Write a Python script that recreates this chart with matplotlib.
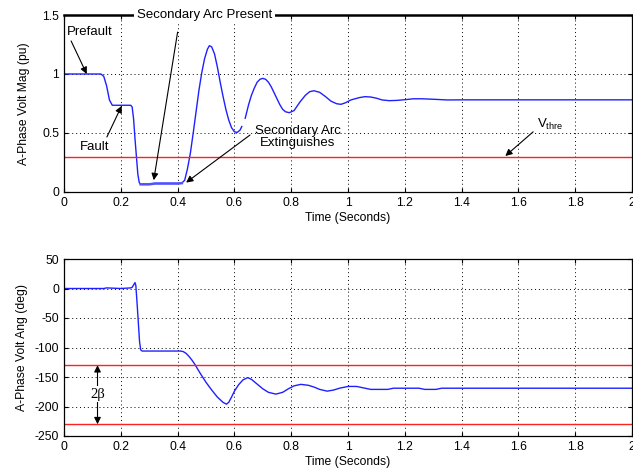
import numpy as np
import matplotlib
matplotlib.use("Agg")
import matplotlib.pyplot as plt

# ── data ────────────────────────────────────────────────────────
# A-phase voltage magnitude (pu); NaN marks the short break in the trace
mag_t = [0.00, 0.13, 0.14, 0.15, 0.16, 0.17, 0.235, 0.24, 0.245, 0.25, 0.255,
         0.26, 0.265, 0.27, 0.30, 0.32, 0.40, 0.415, 0.425, 0.435, 0.445,
         0.455, 0.465, 0.475, 0.485, 0.495, 0.505, 0.512, 0.52, 0.53, 0.54,
         0.55, 0.56, 0.57, 0.58, 0.59, 0.60, 0.61, 0.62, 0.626, 0.631, 0.638,
         0.65, 0.66, 0.67, 0.68, 0.69, 0.70, 0.71, 0.72, 0.73, 0.74, 0.75,
         0.76, 0.77, 0.78, 0.793, 0.81, 0.83, 0.85, 0.865, 0.88, 0.90, 0.92,
         0.94, 0.96, 0.975, 0.99, 1.01, 1.04, 1.06, 1.08, 1.10, 1.12, 1.145,
         1.17, 1.20, 1.23, 1.26, 1.30, 1.35, 1.40, 2.00]
mag_v = [1.00, 1.00, 0.98, 0.90, 0.78, 0.735, 0.735, 0.72, 0.62, 0.45, 0.30,
         0.15, 0.08, 0.065, 0.065, 0.072, 0.072, 0.075, 0.10, 0.20, 0.33,
         0.50, 0.68, 0.86, 1.01, 1.13, 1.21, 1.24, 1.23, 1.17, 1.06,
         0.93, 0.81, 0.70, 0.61, 0.545, 0.51, 0.505, 0.525, 0.555, np.nan, 0.625,
         0.74, 0.82, 0.88, 0.93, 0.955, 0.963, 0.955, 0.93, 0.89, 0.84, 0.79,
         0.74, 0.70, 0.68, 0.672, 0.69, 0.76, 0.82, 0.85, 0.858, 0.845, 0.81,
         0.77, 0.748, 0.743, 0.755, 0.78, 0.80, 0.808, 0.805, 0.795, 0.78, 0.774,
         0.776, 0.782, 0.79, 0.79, 0.786, 0.78, 0.781, 0.781]
v_thre = 0.3

# A-phase voltage angle (deg)
ang_t = [0.00, 0.14, 0.15, 0.20, 0.235, 0.24, 0.245, 0.25, 0.253, 0.258,
         0.262, 0.266, 0.27, 0.275, 0.41, 0.42, 0.43, 0.44, 0.45, 0.46, 0.47,
         0.48, 0.50, 0.52, 0.54, 0.56, 0.572, 0.58, 0.59, 0.60, 0.615, 0.63,
         0.647, 0.66, 0.68, 0.70, 0.72, 0.746, 0.77, 0.79, 0.81, 0.834, 0.86,
         0.88, 0.90, 0.927, 0.95, 0.97, 1.00, 1.03, 1.06, 1.08, 1.14, 1.16,
         1.25, 1.27, 1.31, 1.33, 2.00]
ang_v = [0, 0, 1, 0, 1, 2, 6, 10, 5, -30,
         -60, -90, -104, -106, -106, -107, -110, -115, -121, -128, -136,
         -144, -159, -172, -184, -193, -196, -193, -184, -174, -163, -155,
         -151, -154, -162, -170, -176, -179, -176, -170, -165, -162.5, -164,
         -167, -171, -174, -172, -169, -166, -166, -169, -171, -171, -169,
         -169, -171, -171, -169, -169]
beta_upper = -130
beta_lower = -230

# ── style ───────────────────────────────────────────────────────
plt.rcParams.update({
    "font.family": "Liberation Sans",
    "font.size": 8.7,
    "axes.unicode_minus": False,
    "mathtext.fontset": "custom",
    "mathtext.rm": "Liberation Sans",
    "mathtext.it": "Liberation Sans:italic",
    "axes.linewidth": 0.9,
    "xtick.direction": "in",
    "ytick.direction": "in",
    "xtick.top": True,
    "ytick.right": True,
    "xtick.major.size": 3,
    "ytick.major.size": 3,
})

BLUE = "#2020ff"
RED = "#ff2020"
ANN = 9.5

fig = plt.figure(figsize=(6.33, 4.70), dpi=100)
ax1 = fig.add_axes([64 / 633, 1 - 192 / 470, 568 / 633, 177 / 470])
ax2 = fig.add_axes([64 / 633, 1 - 436 / 470, 568 / 633, 177 / 470])

for ax in (ax1, ax2):
    ax.set_xlim(0, 2)
    ax.set_xticks(np.arange(0, 2.01, 0.2))
    ax.set_xticklabels(["0", "0.2", "0.4", "0.6", "0.8", "1", "1.2",
                        "1.4", "1.6", "1.8", "2"])
    ax.grid(True, linestyle=(0, (1, 3)), color="black", linewidth=0.7)
    ax.set_xlabel("Time (Seconds)", labelpad=2)

# ── top: magnitude ──────────────────────────────────────────────
ax1.plot(mag_t, mag_v, color=BLUE, lw=1.0)
# the low plateau is drawn slightly heavier in the original
t_arr = np.array(mag_t)
low = (t_arr >= 0.27) & (t_arr <= 0.415)
ax1.plot(t_arr[low], np.array(mag_v)[low], color="#5050ff", lw=1.8)
ax1.axhline(v_thre, color=RED, lw=1.0)
ax1.set_ylim(0, 1.5)
ax1.set_yticks([0, 0.5, 1, 1.5])
ax1.set_yticklabels(["0", "0.5", "1", "1.5"])
ax1.set_ylabel("A-Phase Volt Mag (pu)", labelpad=9)
ax1.spines["top"].set_linewidth(1.8)

arrow = dict(arrowstyle="-|>", color="black", lw=0.8, mutation_scale=10,
             shrinkA=0, shrinkB=0)
ax1.text(0.092, 1.36, "Prefault", ha="center", va="center", fontsize=ANN)
ax1.annotate("", xy=(0.08, 1.0), xytext=(0.025, 1.28), arrowprops=arrow)
ax1.text(0.107, 0.38, "Fault", ha="center", va="center", fontsize=ANN)
ax1.annotate("", xy=(0.203, 0.73), xytext=(0.151, 0.466), arrowprops=arrow)
ax1.text(0.495, 1.5, "Secondary Arc Present", ha="center", va="center",
         fontsize=ANN, bbox=dict(facecolor="white", edgecolor="none", pad=2),
         zorder=5, clip_on=False)
ax1.annotate("", xy=(0.316, 0.10), xytext=(0.40, 1.355), arrowprops=arrow)
ax1.text(0.824, 0.465, "Secondary Arc\nExtinguishes", ha="center",
         va="center", linespacing=1.0, fontsize=ANN)
ax1.annotate("", xy=(0.43, 0.08), xytext=(0.655, 0.483), arrowprops=arrow)
ax1.text(1.711, 0.57, r"V$_{\mathregular{thre}}$", ha="center", va="center",
         fontsize=ANN)
ax1.annotate("", xy=(1.554, 0.305), xytext=(1.652, 0.51), arrowprops=arrow)

# ── bottom: angle ───────────────────────────────────────────────
ax2.plot(ang_t, ang_v, color=BLUE, lw=1.0)
ax2.axhline(beta_upper, color=RED, lw=1.0)
ax2.axhline(beta_lower, color=RED, lw=1.0)
ax2.set_ylim(-250, 50)
ax2.set_yticks(np.arange(-250, 51, 50))
ax2.set_ylabel("A-Phase Volt Ang (deg)", labelpad=5)

ax2.annotate("", xy=(0.118, beta_upper), xytext=(0.118, beta_lower),
             arrowprops=dict(arrowstyle="<|-|>", color="black", lw=0.8,
                             mutation_scale=10, shrinkA=0, shrinkB=0))
ax2.text(0.118, -179, "2\u03b2", ha="center", va="center",
         family="Liberation Serif", fontsize=10.5,
         bbox=dict(facecolor="white", edgecolor="none", pad=1), zorder=5)

fig.savefig("out.png", dpi=100, facecolor="white")
